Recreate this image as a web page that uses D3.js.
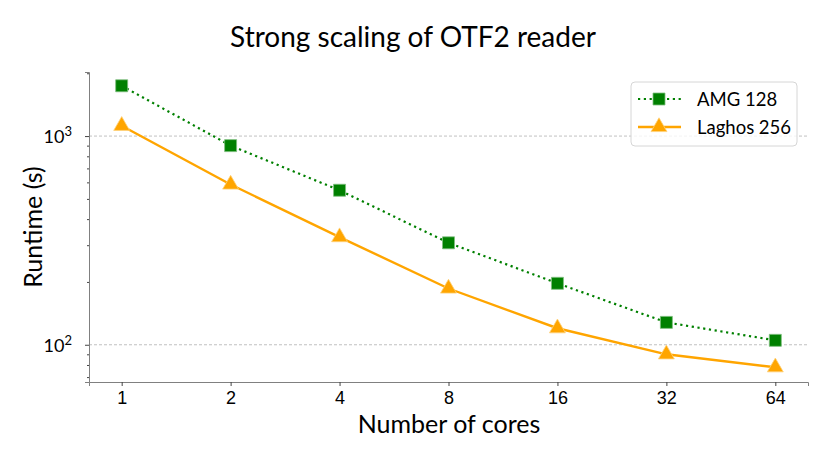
<!DOCTYPE html>
<html>
<head>
<meta charset="utf-8">
<script src="https://cdn.jsdelivr.net/npm/d3@7"></script>
<style>
  body { margin: 0; background: #fff; }
  svg { font-family: "Lato", "DejaVu Sans", sans-serif; }
</style>
</head>
<body>
<div class="chart"></div>
<script>
// Chart data
const cores = [1, 2, 4, 8, 16, 32, 64];
const amgRuntime = [1742, 900, 550, 308, 197, 128, 105];
const laghosRuntime = [1120, 586, 328, 186, 120, 90, 78];
const yMajorTicks = [100, 1000];
const seriesNames = ["AMG 128", "Laghos 256"];

const width = 830, height = 461;
const margin = { top: 72, right: 22, bottom: 79, left: 89 };

const svg = d3.select(".chart")
  .append("svg")
  .attr("width", width)
  .attr("height", height);

// Scales
const x = d3.scalePoint()
  .domain(cores)
  .range([margin.left, width - margin.right])
  .padding(0.3);

const y = d3.scaleLog()
  .domain([66.3, 2028])
  .range([height - margin.bottom, margin.top]);

// Grid lines at major ticks
svg.append("g")
  .selectAll("line")
  .data(yMajorTicks)
  .join("line")
  .attr("x1", margin.left)
  .attr("x2", width - margin.right)
  .attr("y1", d => y(d))
  .attr("y2", d => y(d))
  .attr("stroke", "#b0b0b0")
  .attr("stroke-width", 0.8)
  .attr("stroke-dasharray", "3,2");

// X axis
const xAxis = svg.append("g")
  .attr("transform", `translate(0,${height - margin.bottom})`)
  .call(d3.axisBottom(x).tickSize(4).tickPadding(5));
xAxis.select(".domain").attr("stroke", "#808080");
xAxis.selectAll(".tick line").attr("stroke", "#444");
xAxis.selectAll(".tick text")
  .attr("font-size", 18)
  .attr("fill", "#000");

// Y axis: minor ticks
const minorTicks = y.ticks().filter(d => !yMajorTicks.includes(d));
const yAxis = svg.append("g")
  .attr("transform", `translate(${margin.left},0)`);
yAxis.append("g")
  .call(d3.axisLeft(y).tickValues(minorTicks).tickSize(2).tickFormat(""))
  .call(g => g.select(".domain").remove())
  .selectAll(".tick line").attr("stroke", "#444");
yAxis.append("g")
  .call(d3.axisLeft(y).tickValues(yMajorTicks).tickSize(4).tickFormat(""))
  .call(g => g.select(".domain").attr("stroke", "#808080"))
  .selectAll(".tick line").attr("stroke", "#444");

// Major tick labels as 10 with superscript exponent
const yLabels = yAxis.append("g")
  .selectAll("text")
  .data(yMajorTicks)
  .join("text")
  .attr("x", -17)
  .attr("y", d => y(d) + 7)
  .attr("text-anchor", "end")
  .attr("font-size", 18)
  .attr("fill", "#000");
yLabels.append("tspan").text("10");
yLabels.append("tspan")
  .attr("font-size", 13)
  .attr("dy", -7)
  .text(d => Math.round(Math.log10(d)));

// Axis labels and title
svg.append("text")
  .attr("x", 449)
  .attr("y", 433)
  .attr("text-anchor", "middle")
  .attr("font-size", 25)
  .text("Number of cores");

svg.append("text")
  .attr("transform", `translate(42,${(margin.top + height - margin.bottom) / 2}) rotate(-90)`)
  .attr("text-anchor", "middle")
  .attr("font-size", 25)
  .text("Runtime (s)");

svg.append("text")
  .attr("x", 413)
  .attr("y", 47)
  .attr("text-anchor", "middle")
  .attr("font-size", 28)
  .text("Strong scaling of OTF2 reader");

// Lines
const line = d3.line()
  .x((d, i) => x(cores[i]))
  .y(d => y(d));

svg.append("path")
  .datum(laghosRuntime)
  .attr("fill", "none")
  .attr("stroke", "orange")
  .attr("stroke-width", 2.4)
  .attr("d", line);

svg.append("path")
  .datum(amgRuntime)
  .attr("fill", "none")
  .attr("stroke", "green")
  .attr("stroke-width", 2.2)
  .attr("stroke-dasharray", "2.2,3.6")
  .attr("d", line);

// Markers
const square = d3.symbol().type(d3.symbolSquare).size(144);
const triangle = d3.symbol().type(d3.symbolTriangle).size(110);

svg.append("g")
  .selectAll("path")
  .data(laghosRuntime)
  .join("path")
  .attr("transform", (d, i) => `translate(${x(cores[i])},${y(d)})`)
  .attr("d", triangle)
  .attr("fill", "orange")
  .attr("stroke", "#ffd27a")
  .attr("stroke-width", 0.8);

svg.append("g")
  .selectAll("path")
  .data(amgRuntime)
  .join("path")
  .attr("transform", (d, i) => `translate(${x(cores[i])},${y(d)})`)
  .attr("d", square)
  .attr("fill", "green")
  .attr("stroke", "#7fbf7f")
  .attr("stroke-width", 0.8);

// Legend
const legend = svg.append("g").attr("transform", "translate(631,82)");
legend.append("rect")
  .attr("width", 166)
  .attr("height", 64)
  .attr("rx", 4)
  .attr("fill", "#fff")
  .attr("fill-opacity", 0.8)
  .attr("stroke", "#d6d6d6");

const rows = [
  { name: seriesNames[0], color: "green", dash: "2.2,3.6", symbol: square, edge: "#7fbf7f", width: 2.2 },
  { name: seriesNames[1], color: "orange", dash: null, symbol: triangle, edge: "#ffd27a", width: 2.4 }
];
rows.forEach((r, i) => {
  const cy = 17 + i * 28;
  legend.append("line")
    .attr("x1", 7).attr("x2", 50)
    .attr("y1", cy).attr("y2", cy)
    .attr("stroke", r.color)
    .attr("stroke-width", r.width)
    .attr("stroke-dasharray", r.dash);
  legend.append("path")
    .attr("transform", `translate(28,${cy})`)
    .attr("d", r.symbol)
    .attr("fill", r.color)
    .attr("stroke", r.edge)
    .attr("stroke-width", 0.8);
  legend.append("text")
    .attr("x", 66)
    .attr("y", cy + 6.5)
    .attr("font-size", 18.5)
    .text(r.name);
});
</script>
</body>
</html>
